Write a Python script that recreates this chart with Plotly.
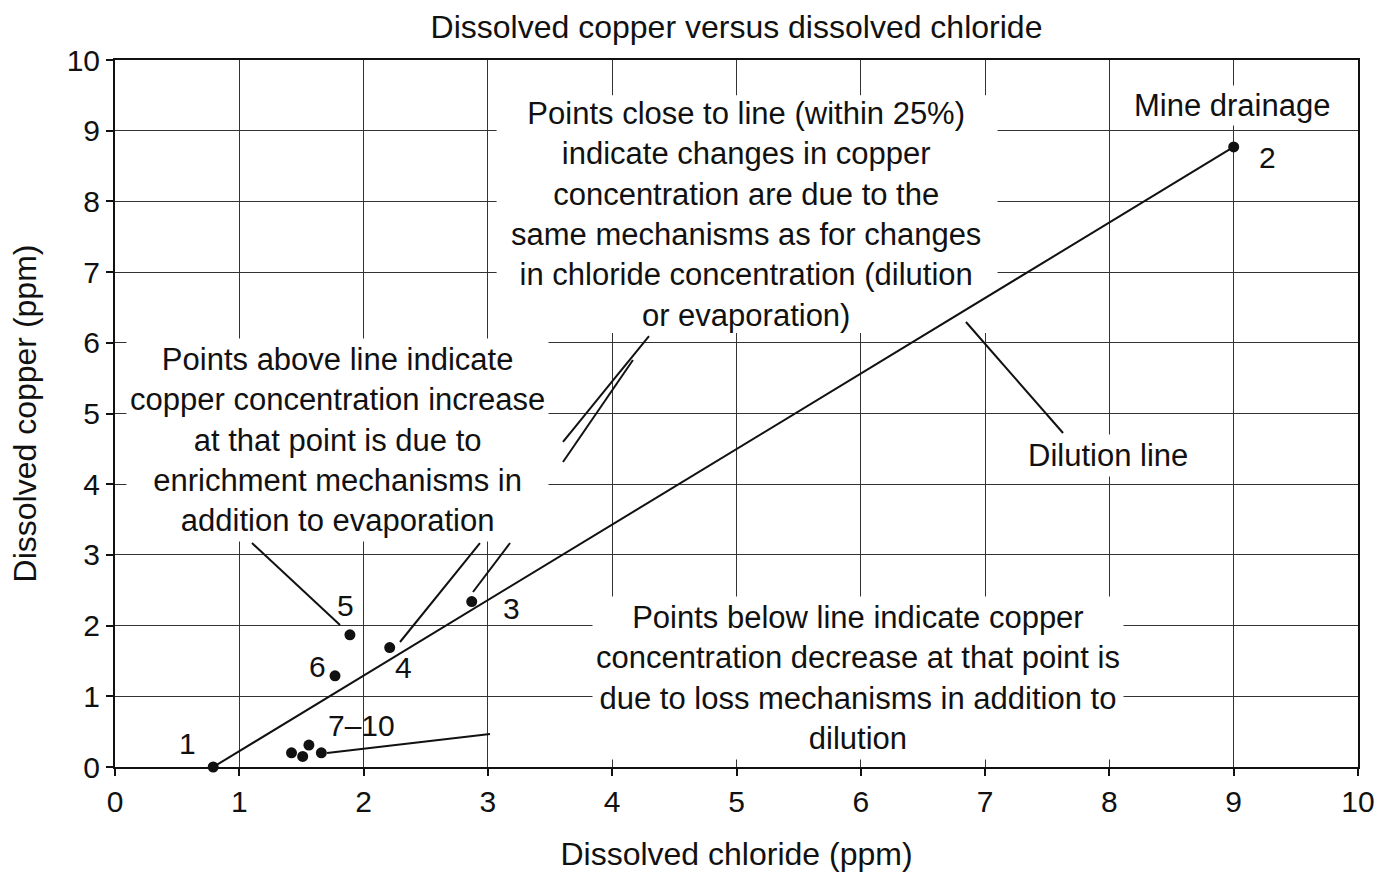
import plotly.graph_objects as go

# Sampling sites: dissolved chloride (x) and dissolved copper (y), both in ppm
site_ids = ["1", "2", "3", "4", "5", "6", "7", "8", "9", "10"]
chloride_ppm = [0.79, 9.00, 2.87, 2.21, 1.89, 1.77, 1.42, 1.51, 1.56, 1.66]
copper_ppm = [0.00, 8.77, 2.34, 1.69, 1.87, 1.29, 0.20, 0.15, 0.31, 0.20]

# Axis ticks
x_ticks = list(range(0, 11))
y_ticks = list(range(0, 11))

FONT = "Liberation Sans, Arial, Helvetica, sans-serif"
INK = "#111111"

fig = go.Figure()

# Dilution line: runs from the most dilute site (1) to the mine drainage (2)
i_low, i_mine = site_ids.index("1"), site_ids.index("2")
fig.add_trace(go.Scatter(
    x=[chloride_ppm[i_low], chloride_ppm[i_mine]],
    y=[copper_ppm[i_low], copper_ppm[i_mine]],
    mode="lines",
    line=dict(color=INK, width=2),
    hoverinfo="skip",
    showlegend=False,
))

# Sample points
fig.add_trace(go.Scatter(
    x=chloride_ppm,
    y=copper_ppm,
    mode="markers",
    marker=dict(color=INK, size=11),
    text=site_ids,
    cliponaxis=False,
    showlegend=False,
))

# Site number labels, offset in pixels from their point
label_offsets = {
    "1": (-26, 24),
    "2": (34, -11),
    "3": (40, -7),
    "4": (14, -20),
    "5": (-4, 29),
    "6": (-18, 9),
}
label_font = dict(family=FONT, size=30, color=INK)
for sid, (dx, dy) in label_offsets.items():
    k = site_ids.index(sid)
    fig.add_annotation(
        x=chloride_ppm[k], y=copper_ppm[k], text=sid,
        showarrow=False, xshift=dx, yshift=dy, font=label_font,
    )
k10 = site_ids.index("10")
fig.add_annotation(
    x=chloride_ppm[k10], y=copper_ppm[k10], text="7\u201310",
    showarrow=False, xshift=40, yshift=27, font=label_font,
)

# Explanatory notes
note_font = dict(family=FONT, size=31, color=INK)
fig.add_annotation(
    x=5.08, y=7.81,
    text=("Points close to line (within 25%)<br>indicate changes in copper<br>"
          "concentration are due to the<br>same mechanisms as for changes<br>"
          "in chloride concentration (dilution<br>or evaporation)"),
    showarrow=False, font=note_font, align="center",
)
fig.add_annotation(
    x=1.79, y=4.62,
    text=("Points above line indicate<br>copper concentration increase<br>"
          "at that point is due to<br>enrichment mechanisms in<br>"
          "addition to evaporation"),
    showarrow=False, font=note_font, align="center",
    bgcolor="white", borderpad=3,
)
fig.add_annotation(
    x=5.98, y=1.26,
    text=("Points below line indicate copper<br>concentration decrease at that point is<br>"
          "due to loss mechanisms in addition to<br>dilution"),
    showarrow=False, font=note_font, align="center",
    bgcolor="white", borderpad=3,
)
fig.add_annotation(
    x=8.99, y=9.36, text="Mine drainage",
    showarrow=False, font=note_font, bgcolor="white", borderpad=2,
)
fig.add_annotation(
    x=7.99, y=4.41, text="Dilution line",
    showarrow=False, font=note_font, bgcolor="white", borderpad=3,
)

shapes = []
# White panel behind the upper note: hides the grid but not the dilution line
shapes.append(dict(
    type="rect", xref="x", yref="y", x0=3.07, x1=7.10, y0=6.14, y1=9.50,
    fillcolor="white", line=dict(width=0), layer="between",
))

# Leader lines from the notes to the points / features they describe
leaders = [
    (1.102, 3.168, 1.810, 2.008),   # above-line note -> site 5
    (2.936, 3.168, 2.293, 1.768),   # above-line note -> site 4
    (3.178, 3.168, 2.880, 2.475),   # above-line note -> site 3
    (1.706, 0.198, 3.017, 0.467),   # sites 7-10 -> below-line note
    (4.296, 6.096, 3.604, 4.597),   # close-to-line note
    (4.167, 5.757, 3.604, 4.314),   # close-to-line note
    (6.846, 6.294, 7.627, 4.724),   # dilution line label
]
for x0, y0, x1, y1 in leaders:
    shapes.append(dict(
        type="line", xref="x", yref="y", x0=x0, y0=y0, x1=x1, y1=y1,
        line=dict(color=INK, width=2), layer="above",
    ))

axis_common = dict(
    showgrid=True, gridcolor="#333333", gridwidth=1,
    showline=True, linecolor=INK, linewidth=2, mirror=True,
    ticks="outside", ticklen=7, tickwidth=1.5, tickcolor=INK,
    zeroline=False, automargin=False,
    tickfont=dict(family=FONT, size=30, color=INK),
)

fig.update_layout(
    width=1379, height=872,
    margin=dict(l=115, r=21, t=60, b=105),
    paper_bgcolor="white", plot_bgcolor="white",
    shapes=shapes,
    title=dict(
        text="Dissolved copper versus dissolved chloride",
        x=0.5, xref="paper", xanchor="center",
        y=1 - 27 / 872, yref="container", yanchor="middle",
        font=dict(family=FONT, size=32, color=INK),
    ),
    xaxis=dict(
        range=[0, 10], tickvals=x_ticks,
        title=dict(text="Dissolved chloride (ppm)", standoff=28,
                   font=dict(family=FONT, size=32, color=INK)),
        **axis_common,
    ),
    yaxis=dict(
        range=[0, 10], tickvals=y_ticks,
        title=dict(text="Dissolved copper (ppm)", standoff=20,
                   font=dict(family=FONT, size=32, color=INK)),
        **axis_common,
    ),
)

fig.write_html("out.html")
